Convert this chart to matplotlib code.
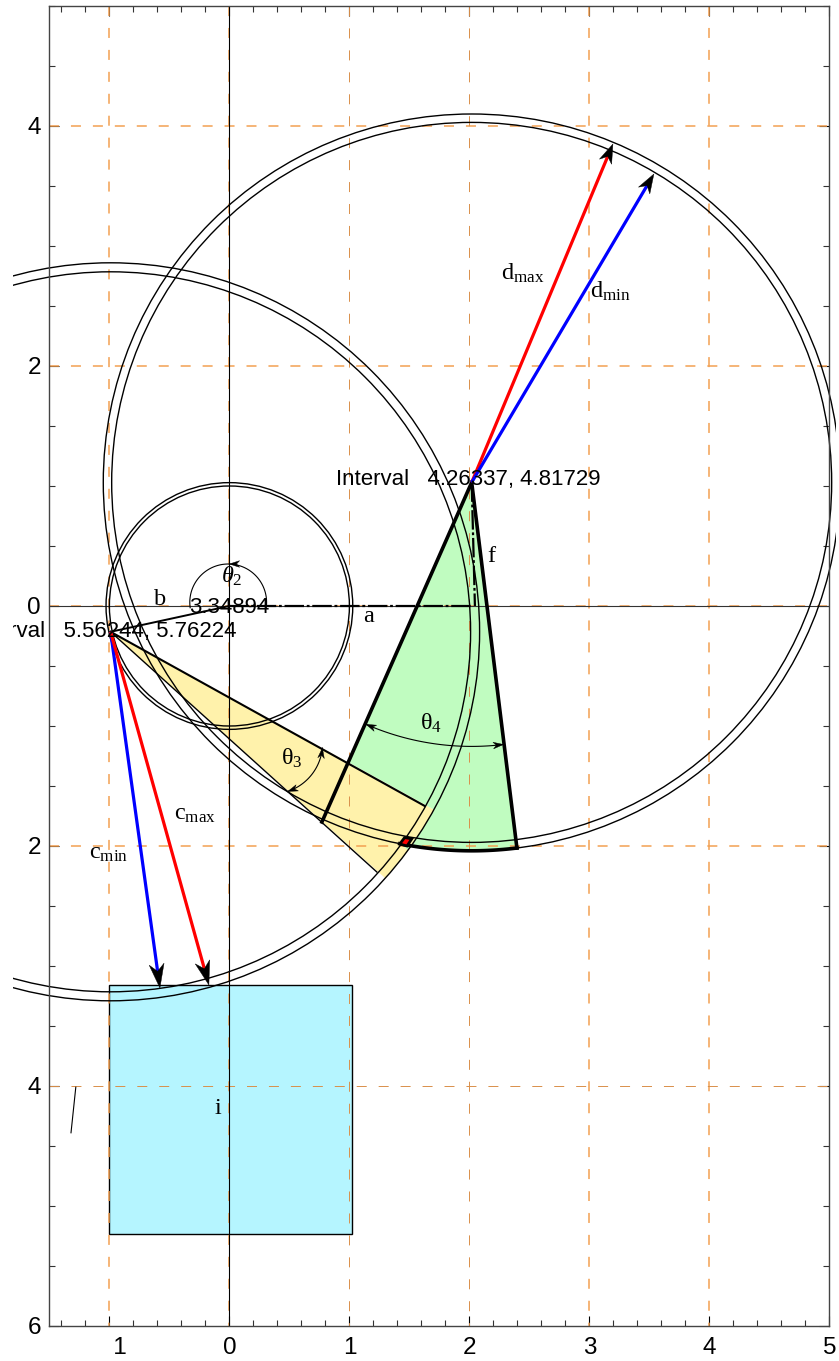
import numpy as np
import matplotlib
matplotlib.use('Agg')
import matplotlib.pyplot as plt
from matplotlib.patches import Polygon, Circle, Rectangle

plt.rcParams['font.family'] = ['Liberation Sans', 'DejaVu Sans']
plt.rcParams['mathtext.fontset'] = 'custom'
plt.rcParams['mathtext.rm'] = 'Liberation Serif'
plt.rcParams['mathtext.it'] = 'Liberation Serif:italic'
plt.rcParams['lines.scale_dashes'] = False

# joints
pt_o = [0.0, 0.0]
pt_a = [-0.99, -0.215]
pt_b = [2.019, 1.03]

# circles: inner and outer radius
small_r = [1.0, 1.028]
c_r = [3.0, 3.075]
d_r = [3.0, 3.07]

# ends of the drawn links
link_end = [0.771, -1.8]
f_end = [2.396, -2.017]
f_mid = [2.046, 0.0]
a_end = [2.02, 0.0]
green_start = [0.9875, -1.3]
yellow_top = [1.696, -1.692]
yellow_top_line = [1.629, -1.667]
yellow_low = [1.2875, -2.258]
yellow_low_line = [1.229, -2.217]
red_x = [1.46, 1.52, 1.48, 1.42]
red_y = [-1.93, -1.94, -2.0, -1.983]

# arrow tips
cmin_tip = [-0.579, -3.183]
cmax_tip = [-0.171, -3.158]
dmax_tip = [3.196, 3.85]
dmin_tip = [3.5375, 3.6]

# box and stray line
box_x = [-1.0, 1.02]
box_y = [-5.235, -3.16]
stray_x = [-1.28, -1.32]
stray_y = [-4.01, -4.39]

x_major = [-1, 0, 1, 2, 3, 4, 5]
x_labels = ['   1', '0', '1', '2', '3', '4', '5']
y_major = [-6, -4, -2, 0, 2, 4]
y_labels = ['6', '4', '2', '0', '2', '4']
grid_x = [-1, 0, 3, 4]
grid_y = [0, 2, 4, -2]
grid_thin_x = [1, 2]
grid_thin_y = [-4]

ORANGE = '#f2a052'
YELLOW = '#fff2ab'
GREEN = '#c0fcc0'
CYAN = '#b5f5ff'


def arc(center, r, p0, p1, n=60):
    t0 = np.arctan2(p0[1] - center[1], p0[0] - center[0])
    t1 = np.arctan2(p1[1] - center[1], p1[0] - center[0])
    t = np.linspace(t0, t1, n)
    return np.column_stack([center[0] + r * np.cos(t), center[1] + r * np.sin(t)])


def head(ax, tip, tail, length, width):
    tip = np.array(tip)
    u = tip - np.array(tail)
    u = u / np.hypot(u[0], u[1])
    n = np.array([-u[1], u[0]])
    pts = [tip, tip - length * u + width / 2 * n, tip - 0.7 * length * u, tip - length * u - width / 2 * n]
    ax.add_patch(Polygon(pts, closed=True, fc='k', ec='k', lw=0.3, zorder=6))


def arrow(ax, start, tip, color, length, width):
    s = np.array(start)
    t = np.array(tip)
    u = (t - s) / np.hypot(*(t - s))
    e = t - 0.6 * length * u
    ax.plot([s[0], e[0]], [s[1], e[1]], color=color, lw=2.3, zorder=5, solid_capstyle='butt')
    head(ax, tip, start, length, width)


def angle_arc(ax, center, r, t0, t1, heads=True):
    t = np.radians(np.linspace(t0, t1, 80))
    x = center[0] + r * np.cos(t)
    y = center[1] + r * np.sin(t)
    ax.plot(x, y, color='k', lw=0.8, zorder=5)
    if heads:
        head(ax, [x[-1], y[-1]], [x[-6], y[-6]], 0.085, 0.055)
        head(ax, [x[0], y[0]], [x[5], y[5]], 0.085, 0.055)


fig = plt.figure(figsize=(8.39, 13.61), dpi=100)
ax = fig.add_axes([49.4 / 839, 35 / 1361, 780 / 839, 1320 / 1361])
ax.set_xlim(-1.5, 5)
ax.set_ylim(-6, 5)

clip = Rectangle((-1.804, -6), 6.858, 11, transform=ax.transData)

# fills
yellow = [pt_a, yellow_top] + list(arc(pt_a, c_r[1], yellow_top, yellow_low))
ax.add_patch(Polygon(yellow, closed=True, fc=YELLOW, ec='none', zorder=1))
red = list(zip(red_x, red_y))
green = [pt_b, green_start, yellow_top] + list(arc(pt_a, c_r[1], yellow_top, red[3])) \
    + list(arc(pt_b, d_r[1], red[3], f_end))
ax.add_patch(Polygon(green, closed=True, fc=GREEN, ec='none', zorder=1))
ax.add_patch(Rectangle((box_x[0], box_y[0]), box_x[1] - box_x[0], box_y[1] - box_y[0],
                       fc=CYAN, ec='k', lw=1.0, zorder=1))

# grid, then the axis lines on top of it
for gx in grid_x:
    ax.plot([gx, gx], [5, -6], color=ORANGE, lw=1.1, dashes=(7.2, 8.6), zorder=2)
for gy in grid_y:
    ax.plot([-1.5, 5], [gy, gy], color=ORANGE, lw=1.1, dashes=(7.2, 8.6), zorder=2)
for gx in grid_thin_x:
    ax.plot([gx, gx], [5, -6], color='#d98f4a', lw=0.7, dashes=(7.2, 8.6), zorder=2)
for gy in grid_thin_y:
    ax.plot([-1.5, 5], [gy, gy], color='#d98f4a', lw=0.7, dashes=(7.2, 8.6), zorder=2)
ax.axhline(0, color='#333333', lw=0.8, zorder=2.5)
ax.axvline(0, color='k', lw=0.8, zorder=2.5)

# circles
for center, radii in [(pt_o, small_r), (pt_a, c_r), (pt_b, d_r)]:
    for r in radii:
        circ = Circle(center, r, fc='none', ec='k', lw=1.0, zorder=3, transform=ax.transData)
        ax.add_patch(circ)
        circ.set_clip_path(clip)

# links
ax.plot([pt_b[0], link_end[0]], [pt_b[1], link_end[1]], color='k', lw=2.6, zorder=4)
ax.plot([pt_b[0], f_end[0]], [pt_b[1], f_end[1]], color='k', lw=2.6, zorder=4)
ax.plot([pt_o[0], pt_a[0]], [pt_o[1], pt_a[1]], color='k', lw=1.4, zorder=4)
ax.plot([pt_a[0], yellow_top_line[0]], [pt_a[1], yellow_top_line[1]], color='k', lw=1.5, zorder=4)
ax.plot([pt_a[0], yellow_low_line[0]], [pt_a[1], yellow_low_line[1]], color='k', lw=1.0, zorder=4)
ax.plot([pt_o[0], a_end[0]], [pt_o[1], a_end[1]], color='k', lw=1.6, dashes=(14, 2, 2, 2), zorder=4)
ax.plot([pt_b[0], f_mid[0]], [pt_b[1], f_mid[1]], color='k', lw=1.6, dashes=(14, 2, 2, 2), zorder=4)
ax.plot(stray_x, stray_y, color='k', lw=0.8, zorder=4)

thick = arc(pt_b, d_r[1], red[3], f_end)
ax.plot(thick[:, 0], thick[:, 1], color='k', lw=2.6, zorder=4)
ax.add_patch(Polygon(red, closed=True, fc='#ff0000', ec='k', lw=2.0, zorder=4.5))

# arrows
arrow(ax, pt_a, cmin_tip, '#0000ff', 0.2, 0.125)
arrow(ax, pt_a, cmax_tip, '#ff0000', 0.2, 0.125)
arrow(ax, pt_b, dmax_tip, '#ff0000', 0.16, 0.11)
arrow(ax, pt_b, dmin_tip, '#0000ff', 0.16, 0.11)

# angle marks
angle_arc(ax, [-0.01, 0.03], 0.32, -8, 188, heads=False)
head(ax, [0.0, 0.35], [0.08, 0.35], 0.085, 0.055)
angle_arc(ax, [0.352, -1.142], 0.425, -5.6, -71.6)
angle_arc(ax, pt_b, 2.2, -83.1, -113.6)

# labels
serif = dict(family='Liberation Serif', fontsize=17.5, ha='center', va='baseline', zorder=7)
ax.text(1.1625, -0.133, 'a', **serif)
ax.text(-0.579, 0.008, 'b', **serif)
ax.text(2.18, 0.367, 'f', **serif)
ax.text(-0.096, -4.233, 'i', **serif)
ax.text(0.02, 0.19, r'$\theta_{2}$', **serif)
ax.text(0.52, -1.325, r'$\mathrm{\theta}_{\mathrm{3}}$', **serif)
ax.text(1.68, -1.033, r'$\mathrm{\theta}_{\mathrm{4}}$', **serif)
ax.text(2.446, 2.717, r'$\mathrm{d}_{\mathrm{max}}$', **serif)
ax.text(3.17, 2.567, r'$\mathrm{d}_{\mathrm{min}}$', **serif)
ax.text(-0.287, -1.783, r'$\mathrm{c}_{\mathrm{max}}$', **serif)
ax.text(-1.01, -2.108, r'$\mathrm{c}_{\mathrm{min}}$', **serif)

sans = dict(fontsize=16, va='baseline', zorder=7)
ax.text(0.33, -0.058, '3.34894', ha='right', **sans)
t1 = ax.text(0.06, -0.258, 'Interval   5.56244, 5.76224', ha='right', clip_on=True, **sans)
t1.set_clip_path(clip)
ax.text(3.09, 1.008, 'Interval   4.26337, 4.81729', ha='right', **sans)

# axes frame
for s in ax.spines.values():
    s.set_color('#444444')
    s.set_linewidth(1.0)
    s.set_zorder(8)
ax.set_xticks(x_major)
ax.set_xticklabels(x_labels, fontsize=17.5)
ax.set_yticks(y_major)
ax.set_yticklabels(y_labels, fontsize=17.5)
ax.set_xticks(np.arange(-1.4, 5.01, 0.2), minor=True)
ax.set_yticks(np.arange(-5.5, 5.01, 0.5), minor=True)
ax.tick_params(which='major', direction='in', length=7.2, width=0.8, top=True, right=True, pad=8)
ax.tick_params(which='minor', direction='in', length=4.6, width=0.8, color='#333333', top=True, right=True)
ax.tick_params(axis='y', which='major', pad=6)

fig.savefig('out.png', dpi=100)
